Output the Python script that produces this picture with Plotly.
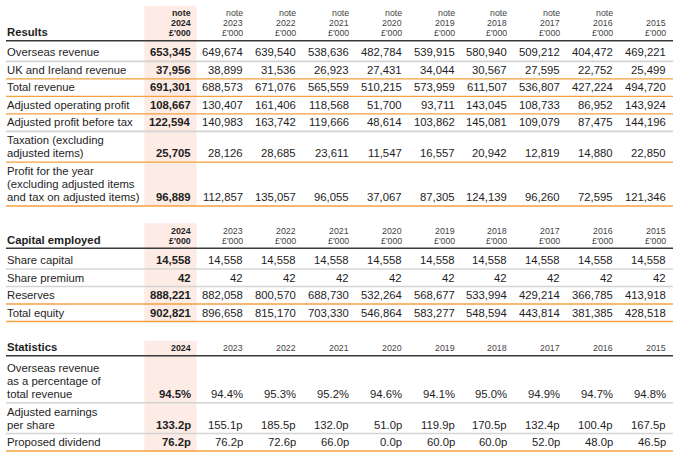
"""Five/ten-year financial summary table drawn with Plotly shapes and annotations"""

import plotly.graph_objects as go

# ---- data -------------------------------------------------------------
years = [2024, 2023, 2022, 2021, 2020, 2019, 2018, 2017, 2016, 2015]
has_note = [True, True, True, True, True, True, True, True, True, False]

overseas_revenue = [653345, 649674, 639540, 538636, 482784, 539915, 580940, 509212, 404472, 469221]
uk_ireland_revenue = [37956, 38899, 31536, 26923, 27431, 34044, 30567, 27595, 22752, 25499]
total_revenue = [691301, 688573, 671076, 565559, 510215, 573959, 611507, 536807, 427224, 494720]
adj_operating_profit = [108667, 130407, 161406, 118568, 51700, 93711, 143045, 108733, 86952, 143924]
adj_profit_before_tax = [122594, 140983, 163742, 119666, 48614, 103862, 145081, 109079, 87475, 144196]
taxation = [25705, 28126, 28685, 23611, 11547, 16557, 20942, 12819, 14880, 22850]
profit_for_year = [96889, 112857, 135057, 96055, 37067, 87305, 124139, 96260, 72595, 121346]

share_capital = [14558, 14558, 14558, 14558, 14558, 14558, 14558, 14558, 14558, 14558]
share_premium = [42, 42, 42, 42, 42, 42, 42, 42, 42, 42]
reserves = [888221, 882058, 800570, 688730, 532264, 568677, 533994, 429214, 366785, 413918]
total_equity = [902821, 896658, 815170, 703330, 546864, 583277, 548594, 443814, 381385, 428518]

overseas_pct = [94.5, 94.4, 95.3, 95.2, 94.6, 94.1, 95.0, 94.9, 94.7, 94.8]
adj_eps = [133.2, 155.1, 185.5, 132.0, 51.0, 119.9, 170.5, 132.4, 100.4, 167.5]
dividend = [76.2, 76.2, 72.6, 66.0, 0.0, 60.0, 60.0, 52.0, 48.0, 46.5]

# ---- style ------------------------------------------------------------
FONT = "Liberation Sans, Arial, Helvetica, sans-serif"
BODY = 11.3
SMALL = 8.8
TEXT = "#1e1e1e"
HEAD = "#444444"
ORANGE = "#f6a03f"
GRAY = "#d4d4d4"
DARK = "#3a3a3a"
HIGHLIGHT = "#fdebe5"

W, H = 676, 455
LEFT, RIGHT = 6, 673
COL_RIGHT0, COL_STEP = 191.5, 52.82
HL_LEFT, HL_RIGHT = 144.3, 196.7
ROW_H, EXTRA_LINE, FIRST_PAD = 17.5, 13.2, 3.2
LABEL_PITCH = 12.9


def fmt_int(v):
    return f"{v:,}"


def fmt_pct(v):
    return f"{v:.1f}%"


def fmt_p(v):
    return f"{v:.1f}p"


sections = [
    dict(title="Results", header_line=40.7, header=["note", "year", "unit"],
         rows=[
             (["Overseas revenue"], overseas_revenue, fmt_int, "gray"),
             (["UK and Ireland revenue"], uk_ireland_revenue, fmt_int, "orange"),
             (["Total revenue"], total_revenue, fmt_int, "orange"),
             (["Adjusted operating profit"], adj_operating_profit, fmt_int, "orange"),
             (["Adjusted profit before tax"], adj_profit_before_tax, fmt_int, "gray"),
             (["Taxation (excluding", "adjusted items)"], taxation, fmt_int, "orange"),
             (["Profit for the year", "(excluding adjusted items",
               "and tax on adjusted items)"], profit_for_year, fmt_int, "orange"),
         ]),
    dict(title="Capital employed", header_line=248.3, header=["year", "unit"],
         rows=[
             (["Share capital"], share_capital, fmt_int, "gray"),
             (["Share premium"], share_premium, fmt_int, "gray"),
             (["Reserves"], reserves, fmt_int, "orange"),
             (["Total equity"], total_equity, fmt_int, "orange"),
         ]),
    dict(title="Statistics", header_line=355.7, header=["year"],
         rows=[
             (["Overseas revenue", "as a percentage of", "total revenue"],
              overseas_pct, fmt_pct, "gray"),
             (["Adjusted earnings", "per share"], adj_eps, fmt_p, "gray"),
             (["Proposed dividend"], dividend, fmt_p, "orange"),
         ]),
]

fig = go.Figure()
shapes = []
annotations = []


def text(x, y, s, size=BODY, bold=False, color=TEXT, anchor="right"):
    annotations.append(dict(
        x=x, y=y, xref="x", yref="y", text=f"<b>{s}</b>" if bold else s,
        showarrow=False, xanchor=anchor, yanchor="middle",
        font=dict(family=FONT, size=size, color=color), borderpad=0,
    ))


def hline(y, color, width):
    shapes.append(dict(type="line", xref="x", yref="y", x0=LEFT, x1=RIGHT,
                       y0=y, y1=y, line=dict(color=color, width=width), layer="above"))


for sec in sections:
    line_y = sec["header_line"]
    n_head = len(sec["header"])
    top_text = line_y - 7.5 - 10 * (n_head - 1)

    # row geometry
    y = line_y
    row_geo = []
    for i, (label, values, fmt, sep) in enumerate(sec["rows"]):
        h = ROW_H + EXTRA_LINE * (len(label) - 1) + (FIRST_PAD if i == 0 else 0)
        y += h
        row_geo.append(y)
    bottom = row_geo[-1]

    # highlighted current year column
    shapes.append(dict(type="rect", xref="x", yref="y", x0=HL_LEFT, x1=HL_RIGHT,
                       y0=top_text - 7.5, y1=min(bottom, H), fillcolor=HIGHLIGHT,
                       line=dict(width=0), layer="below"))

    # header
    text(LEFT, line_y - 8.5, sec["title"], bold=True, anchor="left")
    for c, yr in enumerate(years):
        x = COL_RIGHT0 + COL_STEP * c
        bold = c == 0
        col = TEXT if bold else HEAD
        for k, kind in enumerate(sec["header"]):
            hy = top_text + 10 * k
            if kind == "note":
                if has_note[c]:
                    text(x, hy, "note", SMALL, bold, col)
            elif kind == "year":
                text(x, hy, str(yr), SMALL, bold, col)
            else:
                text(x, hy, "£'000", SMALL, bold, col)
    hline(line_y, DARK, 1.6)

    # body rows
    for (label, values, fmt, sep), row_bottom in zip(sec["rows"], row_geo):
        cy = row_bottom - 9
        for j, part in enumerate(label):
            text(LEFT, cy - LABEL_PITCH * (len(label) - 1 - j), part, anchor="left")
        for c, v in enumerate(values):
            text(COL_RIGHT0 + COL_STEP * c, cy, fmt(v), bold=(c == 0))
        if sep == "orange":
            hline(row_bottom, ORANGE, 1.4)
        else:
            hline(row_bottom, GRAY, 1.6)

fig.update_layout(
    width=W, height=H,
    margin=dict(l=0, r=0, t=0, b=0),
    paper_bgcolor="white", plot_bgcolor="white",
    xaxis=dict(range=[0, W], visible=False, fixedrange=True),
    yaxis=dict(range=[H, 0], visible=False, fixedrange=True),
    shapes=shapes, annotations=annotations,
    showlegend=False,
)

fig.write_html("out.html", config={"displayModeBar": False},
               post_script="document.body.style.margin='0';")
